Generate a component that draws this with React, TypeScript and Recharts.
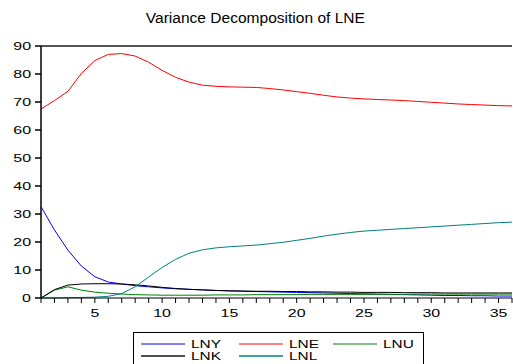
import { LineChart, Line, XAxis, YAxis, ReferenceLine } from "recharts";

const periods = [
  1, 2, 3, 4, 5, 6, 7, 8, 9, 10, 11, 12, 13, 14, 15, 16, 17, 18, 19, 20, 21, 22,
  23, 24, 25, 26, 27, 28, 29, 30, 31, 32, 33, 34, 35, 36,
];

const lny = [
  32.6, 24.3, 17.1, 11.4, 7.6, 5.7, 5.0, 4.4, 4.0, 3.6, 3.3, 3.1, 2.9, 2.7, 2.5,
  2.4, 2.3, 2.2, 2.1, 2.0, 1.9, 1.8, 1.7, 1.6, 1.5, 1.4, 1.3, 1.2, 1.1, 1.0, 0.9,
  0.9, 0.8, 0.8, 0.7, 0.7,
];
const lne = [
  67.5, 70.5, 73.8, 80.2, 84.8, 87.0, 87.3, 86.4, 84.2, 81.3, 78.8, 77.1, 76.0,
  75.6, 75.4, 75.3, 75.2, 74.8, 74.3, 73.7, 73.1, 72.4, 71.8, 71.4, 71.1, 70.9,
  70.7, 70.5, 70.2, 69.9, 69.6, 69.3, 69.1, 68.9, 68.7, 68.6,
];
const lnu = [
  0, 2.8, 4.0, 2.8, 2.1, 1.7, 1.4, 1.2, 1.1, 1.0, 1.0, 1.0, 1.0, 1.1, 1.1, 1.1,
  1.2, 1.2, 1.2, 1.2, 1.3, 1.3, 1.3, 1.3, 1.3, 1.3, 1.3, 1.3, 1.4, 1.4, 1.4, 1.4,
  1.4, 1.4, 1.4, 1.4,
];
const lnk = [
  0, 3.0, 4.6, 5.0, 5.1, 5.1, 5.0, 4.7, 4.3, 3.8, 3.4, 3.1, 2.9, 2.7, 2.6, 2.5,
  2.4, 2.4, 2.3, 2.3, 2.2, 2.2, 2.1, 2.1, 2.0, 2.0, 2.0, 1.9, 1.9, 1.9, 1.8, 1.8,
  1.8, 1.8, 1.8, 1.8,
];
const lnl = [
  0, 0, 0.1, 0.2, 0.3, 0.6, 1.6, 4.0, 7.5, 10.9, 13.8, 16.0, 17.2, 17.9, 18.3,
  18.6, 18.9, 19.4, 19.9, 20.6, 21.3, 22.1, 22.8, 23.4, 23.9, 24.2, 24.5, 24.8,
  25.1, 25.4, 25.7, 26.0, 26.3, 26.6, 26.9, 27.1,
];

const yTicks = [0, 10, 20, 30, 40, 50, 60, 70, 80, 90];
const xLabels = [5, 10, 15, 20, 25, 30, 35];

const series = [
  { key: "LNY", color: "#0000ff", values: lny },
  { key: "LNE", color: "#ff0000", values: lne },
  { key: "LNU", color: "#008000", values: lnu },
  { key: "LNK", color: "#000000", values: lnk },
  { key: "LNL", color: "#008080", values: lnl },
];

const data = periods.map((p, i) => {
  const row: Record<string, number> = { period: p };
  series.forEach((s) => (row[s.key] = s.values[i]));
  return row;
});

const font = "'Liberation Sans', Arial, sans-serif";

function YTick({ x, y, payload }: any) {
  return (
    <text
      transform={`translate(${x - 2},${y + 4}) scale(1.45,1)`}
      textAnchor="end"
      fontSize={11}
      fontFamily={font}
      fill="#000"
    >
      {payload.value}
    </text>
  );
}

function XTick({ x, y, payload }: any) {
  if (!xLabels.includes(payload.value)) return null;
  return (
    <text
      transform={`translate(${x},${y + 12}) scale(1.45,1)`}
      textAnchor="middle"
      fontSize={11}
      fontFamily={font}
      fill="#000"
    >
      {payload.value}
    </text>
  );
}

const legendRows = [
  [
    { key: "LNY", color: "#8080ff" },
    { key: "LNE", color: "#ff8080" },
    { key: "LNU", color: "#80c080" },
  ],
  [
    { key: "LNK", color: "#505050" },
    { key: "LNL", color: "#40a0a0" },
  ],
];
const legendX = [141, 239, 333];

export default function App() {
  return (
    <div
      style={{
        position: "absolute",
        left: 0,
        top: 0,
        width: 513,
        height: 364,
        background: "#fff",
        overflow: "hidden",
      }}
    >
      <div
        style={{
          position: "absolute",
          left: 0,
          width: 513,
          top: 10,
          textAlign: "center",
          fontFamily: font,
          fontSize: 14,
          transform: "scaleX(1.11)",
          transformOrigin: "267px 0",
          color: "#000",
        }}
      >
        Variance Decomposition of LNE
      </div>
      <LineChart
        width={513}
        height={364}
        data={data}
        margin={{ top: 46, right: 1, left: 0, bottom: 0 }}
      >
        <XAxis
          dataKey="period"
          type="number"
          domain={[1, 36]}
          ticks={periods}
          interval={0}
          height={66}
          tickSize={5}
          stroke="#000"
          tick={<XTick />}
        />
        <YAxis
          type="number"
          domain={[0, 90]}
          ticks={yTicks}
          width={41}
          tickSize={6}
          stroke="#000"
          strokeWidth={1.5}
          tick={<YTick />}
        />
        <ReferenceLine y={90} stroke="#555" strokeWidth={2} />
        {series.map((s) => (
          <Line
            key={s.key}
            dataKey={s.key}
            stroke={s.color}
            strokeWidth={1}
            dot={false}
            isAnimationActive={false}
            type="linear"
          />
        ))}
      </LineChart>
      <svg
        width={513}
        height={364}
        style={{ position: "absolute", left: 0, top: 0, pointerEvents: "none" }}
      >
        <rect x={133.5} y={332.5} width={290} height={40} fill="#fff" stroke="#000" />
        {legendRows.map((row, r) =>
          row.map((item, c) => {
            const ly = 344 + r * 12;
            const lx = legendX[c];
            return (
              <g key={item.key}>
                <line x1={lx} x2={lx + 44} y1={ly} y2={ly} stroke={item.color} strokeWidth={2} />
                <text
                  transform={`translate(${lx + 50},${ly + 4}) scale(1.4,1)`}
                  fontSize={11}
                  fontFamily={font}
                  fill="#000"
                >
                  {item.key}
                </text>
              </g>
            );
          })
        )}
      </svg>
    </div>
  );
}
